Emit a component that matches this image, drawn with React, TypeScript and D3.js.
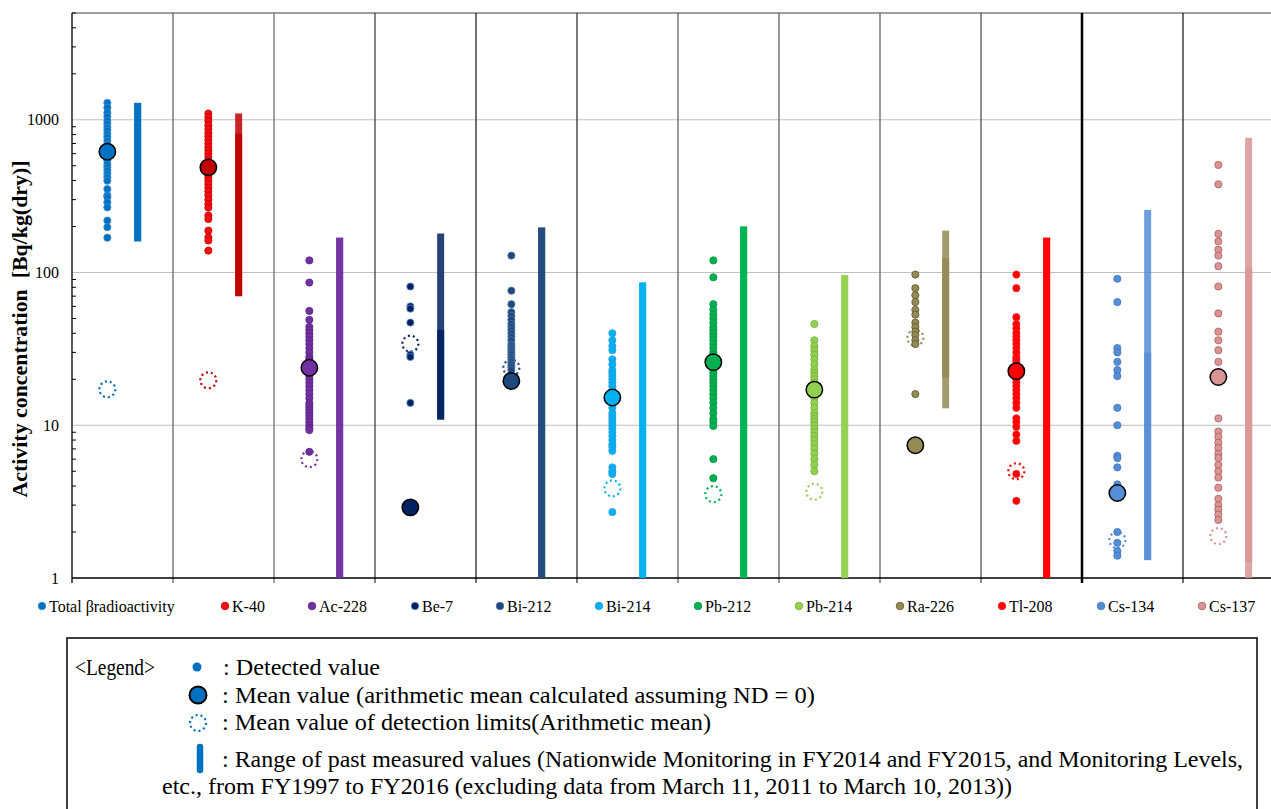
import React from 'react';
import * as d3 from 'd3';

// nuclides, one column each
const nuclides = ['Total βradioactivity', 'K-40', 'Ac-228', 'Be-7', 'Bi-212', 'Bi-214', 'Pb-212', 'Pb-214', 'Ra-226', 'Tl-208', 'Cs-134', 'Cs-137'];

const barColors = ['#0070c0', '#c00000', '#7030a0', '#002060', '#1f497d', '#00b0f0', '#00b050', '#92d050', '#948a54', '#ff0000', '#558ed5', '#d99594'];
const dotColors = ['#0070c0', '#ee1111', '#7030a0', '#002060', '#1f497d', '#00b0f0', '#00b050', '#92d050', '#948a54', '#ff0000', '#558ed5', '#d99594'];
const dotEdges = ['#3c8fd6', '#d00000', '#5a2585', '#5b8fd0', '#4d75a8', '#2aa0e0', '#009443', '#78b03c', '#5f5734', '#ff2020', '#3f74c0', '#b05a5a'];

// detected values [Bq/kg(dry)]
const totalBeta = [1290, 1200, 1110, 1050, 985, 940, 890, 850, 806, 770, 729, 690, 650, 620, 590, 560, 540, 510, 488, 465, 442, 420, 399, 352, 320, 311, 288, 267, 219, 198, 169];
const k40 = [1099, 1040, 980, 920, 870, 820, 780, 740, 700, 660, 630, 600, 570, 540, 510, 490, 465, 440, 420, 400, 380, 360, 340, 320, 300, 280, 266, 236, 224, 188, 170, 162, 139];
const ac228 = [120, 86, 56, 49, 44, 42, 40, 38, 36, 34, 32, 30, 28, 27, 26, 25, 24, 23, 22, 21, 20, 19, 18, 17, 16, 15, 14, 13.5, 13, 12.5, 12, 11.5, 11, 10.5, 10, 9.6, 9.3, 6.7];
const be7 = [81, 60, 58, 47, 29, 28, 14];
const bi212 = [129, 76, 62, 55, 52, 49, 46, 44, 42, 40, 38, 36, 34, 33, 32, 31, 30, 29, 28, 27, 26, 25, 24, 23];
const bi214 = [40, 36, 33, 31, 27, 25, 23, 22, 21, 20, 19, 18, 17, 16, 15, 14, 13, 12, 11.5, 11, 10.5, 10, 9.5, 9, 8.5, 8, 7.5, 7.2, 6.8, 5.3, 5.0, 4.8, 2.7];
const pb212 = [120, 93, 62, 57, 53, 50, 47, 44, 42, 40, 38, 36, 34, 32, 30, 29, 28, 27, 26, 25, 24, 23, 22, 21, 20, 19, 18, 17, 16, 15, 14, 13, 12, 11, 10.5, 9.9, 6.0, 4.5];
const pb214 = [46, 36, 33, 31, 29, 27, 25, 23, 22, 21, 20, 19, 18, 17, 16, 15, 14, 13, 12, 11.5, 11, 10.5, 10, 9.5, 9, 8.5, 8, 7.5, 7, 6.5, 6, 5.5, 5.0];
const ra226 = [97, 79, 71, 64, 57, 53, 47, 44, 41, 39, 36, 34, 16];
const tl208 = [97, 79, 51, 46, 43, 40, 38, 36, 34, 32, 30, 28, 27, 26, 25, 24, 23, 22, 21, 20, 19, 18, 17, 16, 15, 14, 13, 11.1, 10.5, 9.75, 8.7, 7.9, 4.8, 3.2];
const cs134 = [91, 64, 32, 30, 26, 23, 21, 13, 10, 6.3, 6.1, 5.3, 4.1, 2.0, 1.7, 1.5, 1.4];
const cs137 = [506, 378, 179, 160, 141, 129, 110, 81, 54, 41, 36, 31, 26, 11.1, 9.1, 8.4, 7.7, 7.1, 6.5, 6.1, 5.5, 5.0, 4.55, 3.9, 3.3, 3.0, 2.8, 2.6, 2.4];
const detected = [totalBeta, k40, ac228, be7, bi212, bi214, pb212, pb214, ra226, tl208, cs134, cs137];

const meanValues = [618, 488, 23.8, 2.9, 19.5, 15.2, 25.9, 17.1, 7.4, 22.6, 3.6, 20.7];
const ndMeans = [17.2, 19.7, 6.0, 34.2, 23.8, 3.86, 3.54, 3.67, 37.4, 5.0, 1.77, 1.88];

// past ranges (two overlapping sources)
const pastMinA = [160, 70, 0.5, 10.9, 0.5, 0.5, 0.5, 0.5, 12.9, 0.5, 1.31, 0.5];
const pastMaxA = [1290, 1100, 169, 180, 197, 86, 200, 96, 188, 169, 257, 762];
const pastMinB = [160, 70, 0.5, 10.9, 0.5, 0.5, 0.5, 0.5, 20.6, 0.5, 1.31, 1.27];
const pastMaxB = [1290, 810, 169, 42, 197, 86, 200, 96, 124, 169, 30, 108];

const majorTicks = [1, 10, 100, 1000];
const separatorColors = ['#000', '#595959', '#666', '#333', '#111', '#222', '#555', '#555', '#555', '#444', '#000', '#111', '#000'];
const legendOffsets = [-30, 52, 38, 40, 24, 22, 20, 20, 20, 21, 19, 19];

const SERIF = "'Liberation Serif', 'Times New Roman', Times, serif";

export default function App() {
  const left = 72, right = 1284, top = 13, bottom = 578;
  const x = d3.scaleBand<string>().domain(nuclides).range([left, right]);
  const y = d3.scaleLog().domain([1, 5000]).range([bottom, top]);
  const bw = x.bandwidth();
  const minorTicks = y.ticks().filter((t) => !majorTicks.includes(t));
  const boundaries = [...nuclides.map((n) => x(n) as number), right];
  const clampY = (v: number) => Math.min(bottom, Math.max(top, y(v)));

  return (
    <div style={{ position: 'absolute', left: 0, top: 0 }}>
      <svg width={1271} height={809} style={{ display: 'block', background: '#fff', fontFamily: SERIF }}>
        {/* gridlines */}
        {majorTicks.slice(1).map((t) => (
          <line key={t} x1={left} x2={right} y1={y(t)} y2={y(t)} stroke="#c0c0c0" strokeWidth={1.2} />
        ))}
        <line x1={left} x2={right} y1={top} y2={top} stroke="#7f7f7f" strokeWidth={1.5} />

        {/* column separators */}
        {boundaries.slice(1).map((bx, i) => (
          <line key={i} x1={bx} x2={bx} y1={top} y2={bottom + 5} stroke={separatorColors[i + 1]}
            strokeWidth={i + 1 === 10 ? 2.5 : 1.2} />
        ))}

        {/* axes */}
        <line x1={left} x2={left} y1={top} y2={bottom + 5} stroke="#000" strokeWidth={1.3} />
        <line x1={left} x2={right} y1={bottom} y2={bottom} stroke="#000" strokeWidth={1.5} />
        {minorTicks.map((t) => (
          <line key={t} x1={left} x2={left + 4} y1={y(t)} y2={y(t)} stroke="#000" strokeWidth={1} />
        ))}
        {majorTicks.map((t) => (
          <text key={t} x={59} y={y(t)} dy="0.35em" textAnchor="end" fontSize={16} fill="#000">{t}</text>
        ))}
        <text transform={`translate(27, 329) rotate(-90)`} textAnchor="middle" fontSize={22} fontWeight="bold"
          style={{ whiteSpace: 'pre' }} textLength={337} lengthAdjust="spacingAndGlyphs">
          {'Activity concentration  [Bq/kg(dry)]'}
        </text>

        {/* past ranges */}
        {nuclides.map((n, i) => {
          const bx = (x(n) as number) + bw * 0.65 - 3.5;
          return (
            <g key={n}>
              <rect x={bx} width={7} y={clampY(pastMaxA[i])} height={clampY(pastMinA[i]) - clampY(pastMaxA[i])}
                fill={barColors[i]} fillOpacity={0.85} />
              <rect x={bx} width={7} y={clampY(pastMaxB[i])} height={clampY(pastMinB[i]) - clampY(pastMaxB[i])}
                fill={barColors[i]} fillOpacity={0.85} />
            </g>
          );
        })}

        {/* mean of detection limits */}
        {nuclides.map((n, i) => (
          <circle key={n} cx={(x(n) as number) + bw * 0.35} cy={y(ndMeans[i])} r={8} fill="none"
            stroke={barColors[i]} strokeWidth={2.2} strokeDasharray="2 3" />
        ))}

        {/* detected values */}
        {nuclides.map((n, i) => (
          <g key={n}>
            {detected[i].map((v, j) => (
              <circle key={j} cx={(x(n) as number) + bw * 0.35} cy={y(v)} r={3.6}
                fill={dotColors[i]} stroke={dotEdges[i]} strokeWidth={0.8} />
            ))}
          </g>
        ))}

        {/* mean values */}
        {nuclides.map((n, i) => (
          <circle key={n} cx={(x(n) as number) + bw * 0.35} cy={y(meanValues[i])} r={8.2}
            fill={barColors[i]} stroke="#000" strokeWidth={1.5} />
        ))}

        {/* series legend */}
        {nuclides.map((n, i) => {
          const lx = (x(n) as number) + legendOffsets[i];
          return (
            <g key={n}>
              <circle cx={lx} cy={606} r={3.8} fill={dotColors[i]} stroke={dotEdges[i]} strokeWidth={0.8} />
              <text x={lx + 7} y={612} fontSize={16} fill="#000">{n}</text>
            </g>
          );
        })}

        {/* explanation box */}
        <rect x={67} y={638} width={1190} height={200} fill="#fff" stroke="#000" strokeWidth={1.5} />
        <g fontSize={23.5} fill="#000" style={{ whiteSpace: 'pre' }}>
          <text x={75} y={675} textLength={80} lengthAdjust="spacingAndGlyphs">{'<Legend>'}</text>
          <circle cx={197} cy={667} r={4.5} fill="#0070c0" />
          <text x={223} y={675} textLength={157} lengthAdjust="spacingAndGlyphs">{': Detected value'}</text>
          <circle cx={198} cy={695} r={8.5} fill="#0070c0" stroke="#000" strokeWidth={2} />
          <text x={222} y={703} textLength={593} lengthAdjust="spacingAndGlyphs">{':  Mean value  (arithmetic mean calculated assuming ND = 0)'}</text>
          <circle cx={198} cy={723} r={8} fill="none" stroke="#0070c0" strokeWidth={2.2} strokeDasharray="2 3" />
          <text x={222} y={730} textLength={489} lengthAdjust="spacingAndGlyphs">{':  Mean value of detection limits(Arithmetic mean)'}</text>
          <line x1={200} x2={200} y1={747} y2={770} stroke="#0070c0" strokeWidth={6.5} strokeLinecap="round" />
          <text x={222} y={767} textLength={1021} lengthAdjust="spacingAndGlyphs">{':  Range of past measured values (Nationwide Monitoring in FY2014 and FY2015, and Monitoring Levels,'}</text>
          <text x={162} y={794} textLength={850} lengthAdjust="spacingAndGlyphs">{'etc., from FY1997 to FY2016 (excluding data from March 11, 2011 to March 10, 2013))'}</text>
        </g>
      </svg>
    </div>
  );
}
